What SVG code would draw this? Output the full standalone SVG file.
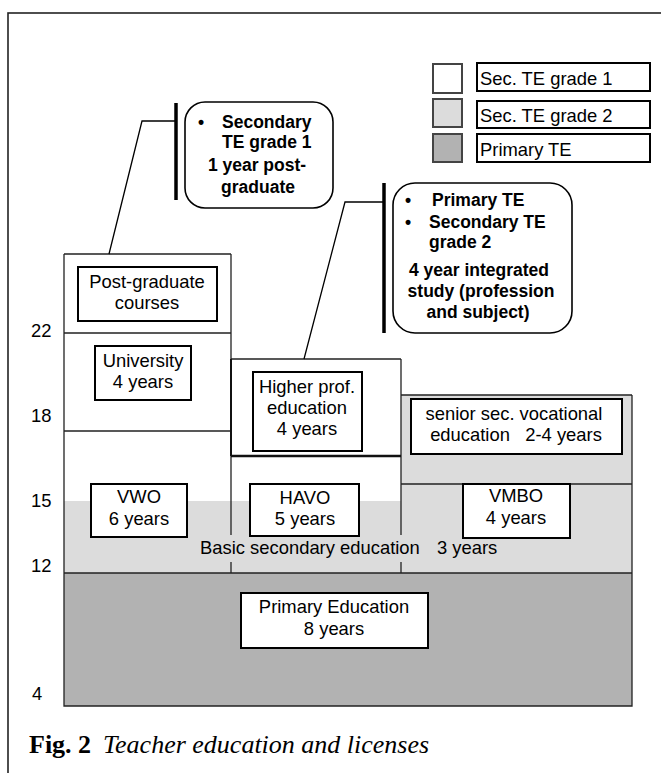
<svg xmlns="http://www.w3.org/2000/svg" width="661" height="773" viewBox="0 0 661 773">
<style>
.t{font-family:"Liberation Sans",Arial,sans-serif;font-size:18.4px;fill:#000;white-space:pre}
.c{text-anchor:middle}
.b{font-family:"Liberation Sans",Arial,sans-serif;font-size:17.5px;font-weight:bold;fill:#000}
.box{fill:#fff;stroke:#000;stroke-width:2}
.ln{stroke:#222;stroke-width:1.3;fill:none}
.call{fill:#fff;stroke:#000;stroke-width:1.6}
.bar{stroke:#000;stroke-width:3.5}
.sq{stroke:#444;stroke-width:2}
.cap{font-family:"Liberation Serif","Times New Roman",serif;font-size:26px;fill:#000}
</style>
<rect x="0" y="0" width="661" height="773" fill="#fff"/>
<rect x="8" y="13" width="700" height="800" fill="none" stroke="#222" stroke-width="1.6"/>

<g id="chart-areas">
<rect x="64" y="573" width="568" height="133" fill="#b2b2b2"/>
<rect x="64" y="501" width="337" height="72" fill="#dcdcdc"/>
<rect x="401" y="395" width="231" height="178" fill="#dcdcdc"/>
<path class="ln" d="M64 254V706H632V395M64 573H632M64 254H231M64 333H231M64 431H231M231 254V535M231 562V573M231 359H401M401 359V535M401 562V573M401 395H632M401 484H632"/>
<path d="M231 456H401" stroke="#111" stroke-width="2.5"/>
<path d="M231 359V456" stroke="#111" stroke-width="2"/>
</g>

<g id="axis-labels" class="t">
<text x="31" y="337">22</text>
<text x="31" y="422">18</text>
<text x="31" y="507">15</text>
<text x="31" y="572">12</text>
<text x="32" y="700">4</text>
</g>

<g id="post-graduate">
<rect class="box" x="78" y="267" width="139" height="54"/>
<text class="t c" x="147" y="288">Post-graduate</text>
<text class="t c" x="147" y="309">courses</text>
</g>
<g id="university">
<rect class="box" x="95" y="346" width="96" height="54"/>
<text class="t c" x="143" y="367">University</text>
<text class="t c" x="143" y="388">4 years</text>
</g>
<g id="vwo">
<rect class="box" x="91" y="484" width="96" height="53"/>
<text class="t c" x="139" y="503">VWO</text>
<text class="t c" x="139" y="525">6 years</text>
</g>
<g id="higher-prof">
<rect class="box" x="253" y="372" width="109" height="79"/>
<text class="t c" x="307" y="393">Higher prof.</text>
<text class="t c" x="307" y="414">education</text>
<text class="t c" x="307" y="435">4 years</text>
</g>
<g id="havo">
<rect class="box" x="250" y="484" width="109" height="52"/>
<text class="t c" x="305" y="504">HAVO</text>
<text class="t c" x="305" y="525">5 years</text>
</g>
<g id="senior-sec">
<rect class="box" x="411" y="399" width="211" height="55"/>
<text class="t c" x="514" y="420">senior sec. vocational</text>
<text class="t c" x="516" y="441" xml:space="preserve">education   2-4 years</text>
</g>
<g id="vmbo">
<rect class="box" x="463" y="484" width="107" height="54"/>
<text class="t c" x="516" y="502">VMBO</text>
<text class="t c" x="516" y="524">4 years</text>
</g>
<g id="basic-secondary">
<text class="t" x="200" y="554">Basic secondary education</text>
<text class="t" x="437" y="554">3 years</text>
</g>
<g id="primary-education">
<rect class="box" x="241" y="593" width="187" height="55"/>
<text class="t c" x="334" y="613">Primary Education</text>
<text class="t c" x="334" y="635">8 years</text>
</g>

<g id="legend">
<rect class="sq" x="433" y="64" width="29" height="29" fill="#fff"/>
<rect class="sq" x="433" y="99" width="29" height="28" fill="#dcdcdc"/>
<rect class="sq" x="433" y="134" width="29" height="28" fill="#b2b2b2"/>
<rect class="box" x="477" y="63" width="173" height="28"/>
<rect class="box" x="477" y="101" width="173" height="27"/>
<rect class="box" x="477" y="134" width="173" height="28"/>
<text class="t" x="480" y="85">Sec. TE grade 1</text>
<text class="t" x="480" y="122">Sec. TE grade 2</text>
<text class="t" x="480" y="156">Primary TE</text>
</g>

<g id="callout-grade1">
<rect class="call" x="185" y="102" width="148" height="106" rx="20" ry="20"/>
<text class="b" x="198" y="128">•</text>
<text class="b" x="222" y="128">Secondary</text>
<text class="b" x="222" y="148">TE grade 1</text>
<text class="b c" x="257" y="171">1 year post-</text>
<text class="b c" x="258" y="193">graduate</text>
</g>
<g id="callout-grade2">
<rect class="call" x="393" y="183" width="179" height="150" rx="22" ry="22"/>
<text class="b" x="405" y="206">•</text>
<text class="b" x="432" y="206">Primary TE</text>
<text class="b" x="405" y="228">•</text>
<text class="b" x="429" y="228">Secondary TE</text>
<text class="b" x="429" y="248">grade 2</text>
<text class="b c" x="479" y="276">4 year integrated</text>
<text class="b c" x="481" y="297">study (profession</text>
<text class="b c" x="478" y="318">and subject)</text>
</g>

<g id="connectors" fill="none" stroke="#000">
<polyline points="109,254 142,121 176,121" stroke-width="1.3"/>
<line class="bar" x1="176" y1="103" x2="176" y2="200"/>
<polyline points="304,359 345,202 384,202" stroke-width="1.3"/>
<line class="bar" x1="384" y1="183" x2="384" y2="333" stroke-width="4"/>
</g>

<g id="caption">
<text class="cap" x="29" y="753"><tspan font-weight="bold">Fig. 2</tspan><tspan x="103" font-style="italic">Teacher education and licenses</tspan></text>
</g>
</svg>
